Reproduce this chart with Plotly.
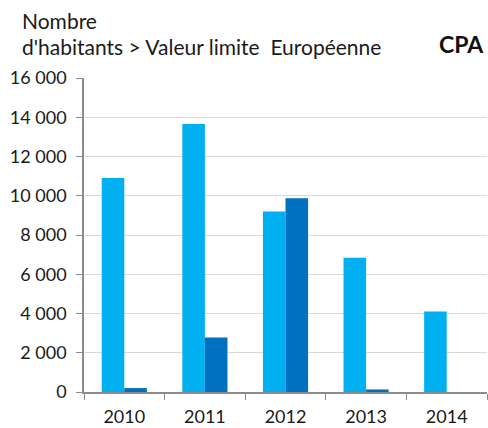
import plotly.graph_objects as go

years = ["2010", "2011", "2012", "2013", "2014"]
light_values = [10900, 13650, 9200, 6840, 4100]
dark_values = [200, 2780, 9870, 130, 0]
y_ticks = [0, 2000, 4000, 6000, 8000, 10000, 12000, 14000, 16000]

L, R, T, B = 84, 1, 78, 36
W, H = 488, 428
pw = W - L - R
ph = H - T - B

def px_x(x):
    return (x - L) / pw

def px_y(y):
    return (H - B - y) / ph

fig = go.Figure()
fig.add_trace(go.Bar(x=years, y=light_values, marker=dict(color="#00B0F0", line=dict(width=0)), name="a"))
fig.add_trace(go.Bar(x=years, y=dark_values, marker=dict(color="#0070C0", line=dict(width=0)), name="b"))

font = "Lato, 'Open Sans', sans-serif"
fig.update_layout(
    width=W, height=H,
    margin=dict(l=L, r=R, t=T, b=B),
    paper_bgcolor="white", plot_bgcolor="white",
    barmode="group", bargap=0.44, bargroupgap=0,
    showlegend=False,
    separators=", ",
    font=dict(family=font, size=16, color="#1a1a1a"),
    xaxis=dict(
        type="category", showline=True, linecolor="#8c8c8c", linewidth=1.5,
        ticks="outside", tickson="boundaries", ticklen=6, tickcolor="#8c8c8c",
        ticklabelstandoff=8,
        tickfont=dict(size=18, family=font, color="#1a1a1a"), showgrid=False,
    ),
    yaxis=dict(
        range=[0, 16000], tickvals=y_ticks, tickformat=",d",
        showline=True, linecolor="#8c8c8c", linewidth=1.5,
        ticks="outside", ticklen=6, tickcolor="#8c8c8c",
        ticklabelstandoff=6,
        showgrid=True, gridcolor="#d9d9d9", gridwidth=1.2,
        tickfont=dict(size=18, family=font, color="#1a1a1a"),
        zeroline=False,
    ),
    annotations=[
        dict(text="Nombre", xref="paper", yref="paper", x=px_x(20), y=px_y(20),
             xanchor="left", yanchor="middle", showarrow=False, font=dict(size=21, family=font, color="#1a1a1a")),
        dict(text="d'habitants > Valeur limite  Européenne", xref="paper", yref="paper", x=px_x(20), y=px_y(47),
             xanchor="left", yanchor="middle", showarrow=False, font=dict(size=21, family=font, color="#1a1a1a")),
        dict(text="<b>CPA</b>", xref="paper", yref="paper", x=px_x(486), y=px_y(44),
             xanchor="right", yanchor="middle", showarrow=False, font=dict(size=23, family=font, color="#111")),
    ],
)

fig.write_html("out.html", config={"displayModeBar": False},
               post_script="document.body.style.margin='0';document.body.style.padding='0';")
